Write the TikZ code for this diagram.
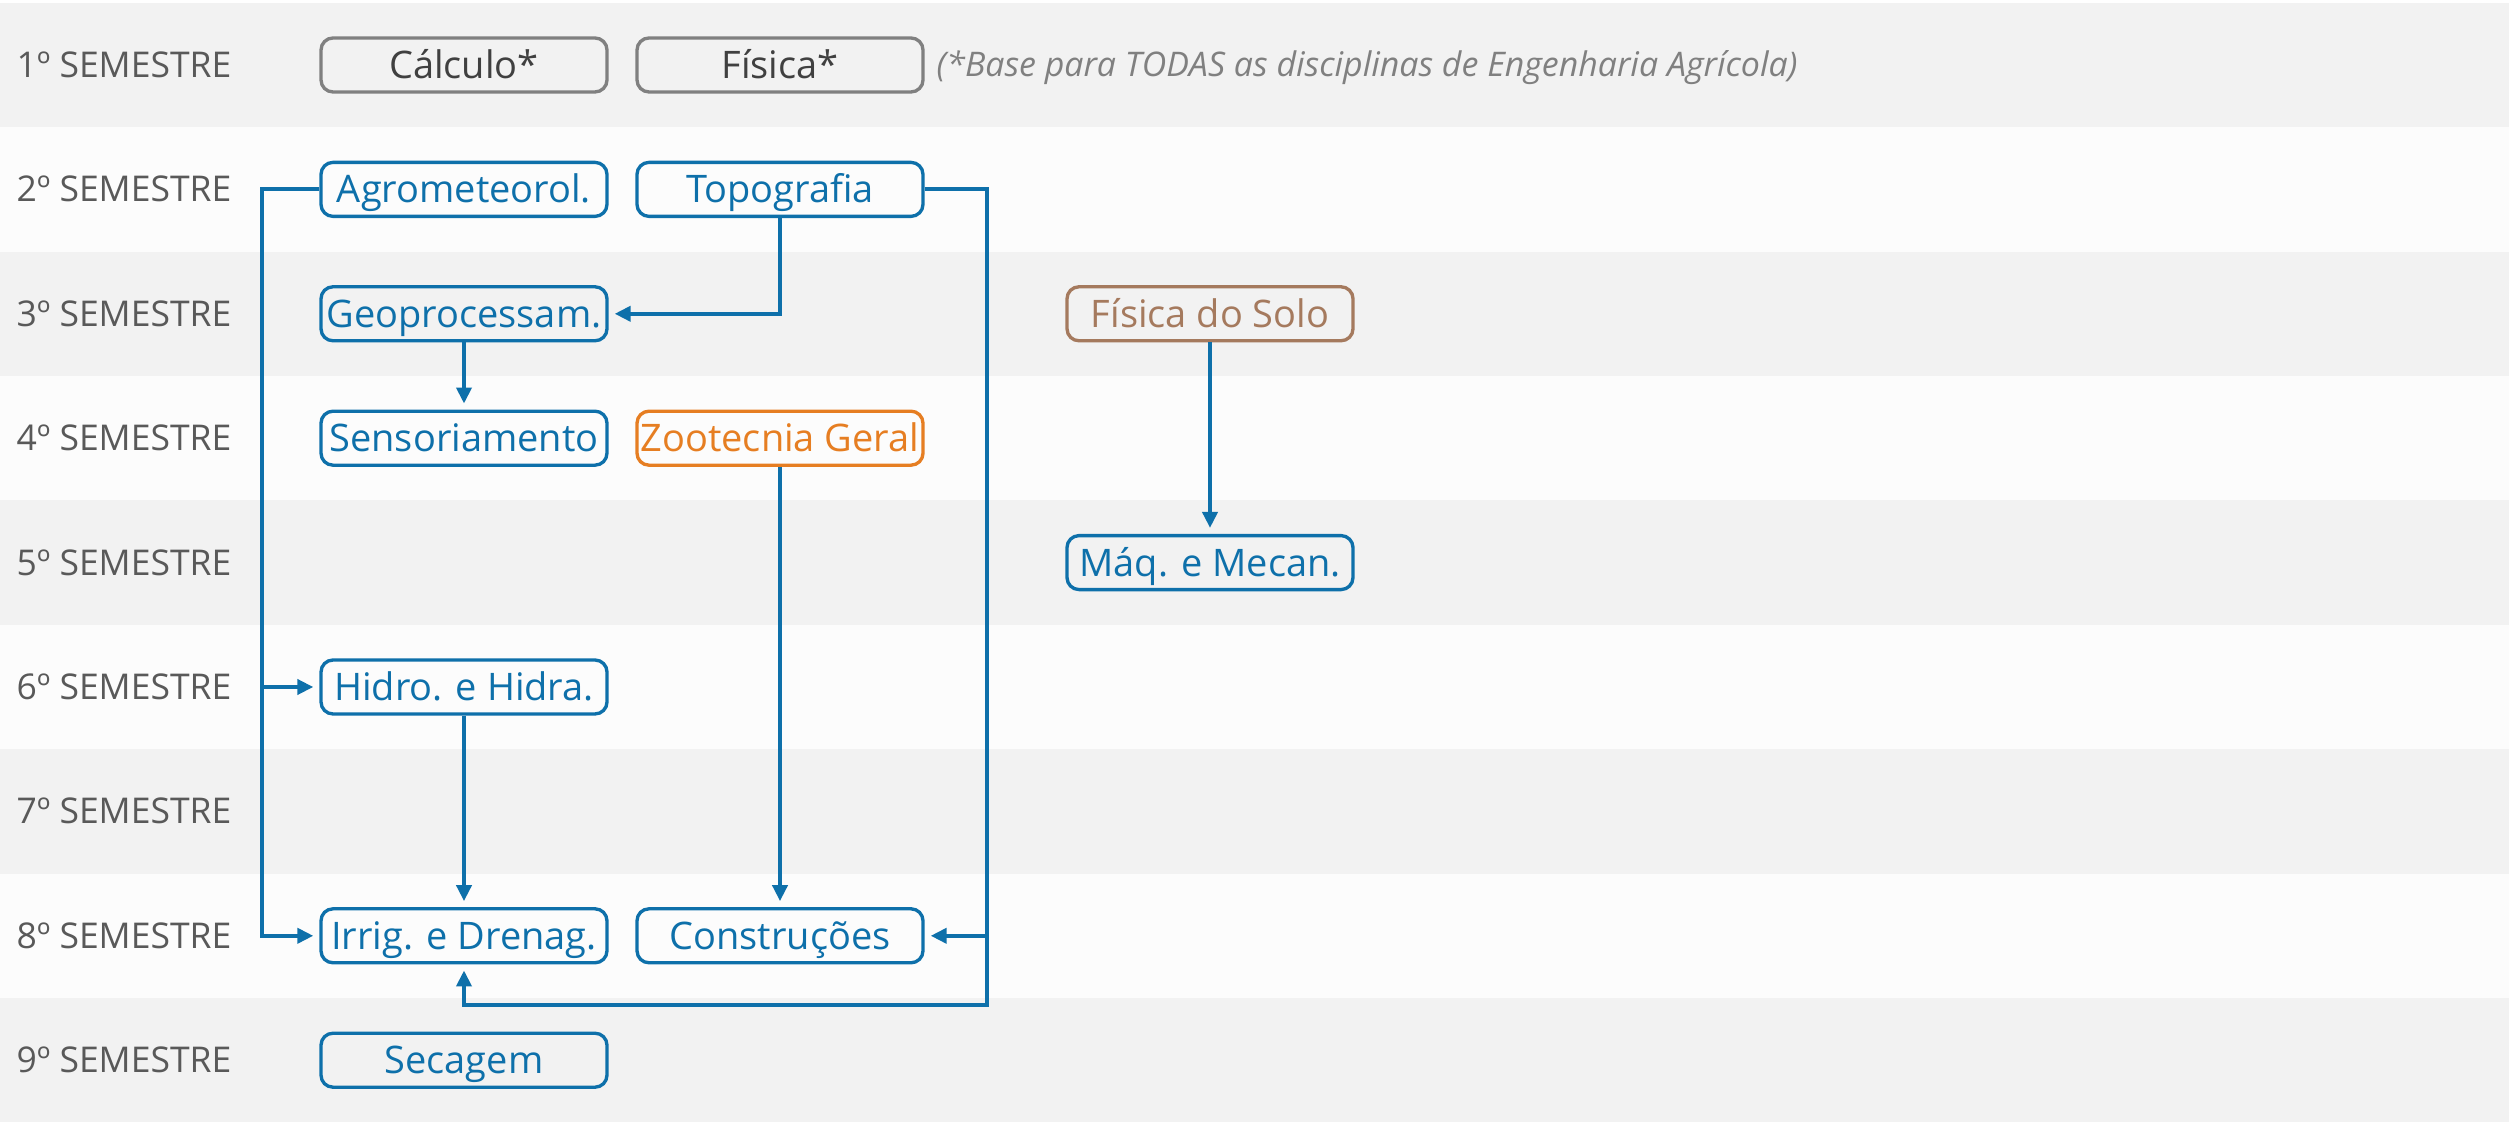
\documentclass[tikz,border=0pt]{standalone}
\usepackage{fontspec}
\setmainfont{Open Sans}
\usetikzlibrary{arrows.meta,positioning}
\definecolor{azul}{RGB}{14,112,170}
\definecolor{laranja}{RGB}{230,126,34}
\definecolor{marrom}{RGB}{165,122,94}
\definecolor{faixa}{RGB}{242,242,242}
\definecolor{faixaclara}{RGB}{252,252,252}
\definecolor{cinzatxt}{RGB}{89,89,89}
\definecolor{cinzabox}{RGB}{128,128,128}
\definecolor{cinzaesc}{RGB}{64,64,64}
\tikzset{
  sem/.style = {anchor=west, inner sep=0pt, text=cinzatxt, text height=0.25cm,
    text depth=0pt, font=\fontsize{10.1}{12}\selectfont},% rotulo do semestre
  disc/.style = {draw=azul, text=azul, rounded corners=0.12cm, line width=0.95pt,
    minimum width=2.86cm, minimum height=0.54cm, inner sep=0pt, text height=0.27cm,
    text depth=0pt, font=\fontsize{10.8}{12}\selectfont},% disciplina
  base/.style = {disc, draw=cinzabox, text=cinzaesc},% disciplina base
  zoo/.style = {disc, draw=laranja, text=laranja},
  solo/.style = {disc, draw=marrom, text=marrom},
  liga/.style = {azul, line width=1.1pt, shorten >=0.06cm,
    -{Triangle[length=0.16cm, width=0.15cm]}}
}

\begin{document}
\begin{tikzpicture}
	% fundo e faixas
	\fill[white] (0,0) rectangle (25.09,-11.24);
	\useasboundingbox (0,0) rectangle (25.09,-11.24);
	\foreach \i in {1,...,9} {
		\pgfmathsetmacro{\yc}{-0.65-(\i-1)*1.244}
		\ifodd\i \def\cor{faixa}\else \def\cor{faixaclara}\fi
		\fill[\cor] (0,\yc+0.622) rectangle (25.09,\yc-0.622);
		\node [sem] (sem\i) at (0.16,\yc) {\i º SEMESTRE};
	}
	% disciplinas
	\node [base] (calc) at (4.64,-0.65) {Cálculo*};
	\node [base] (fis) at (7.80,-0.65) {Física*};
	\node [anchor=west, inner sep=0pt, text=cinzabox, text height=0.24cm, text depth=0pt,
		font=\fontsize{9.65}{11}\selectfont\itshape] (nota) at (9.36,-0.65)
		{(*Base para TODAS as disciplinas de Engenharia Agrícola)};
	\node [disc] (agro) at (4.64,-1.894) {Agrometeorol.};
	\node [disc] (topo) at (7.80,-1.894) {Topografia};
	\node [disc] (geo) at (4.64,-3.138) {Geoprocessam.};
	\node [solo] (fsolo) at (12.10,-3.138) {Física do Solo};
	\node [disc] (sens) at (4.64,-4.382) {Sensoriamento};
	\node [zoo] (zoot) at (7.80,-4.382) {Zootecnia Geral};
	\node [disc] (maq) at (12.10,-5.626) {Máq. e Mecan.};
	\node [disc] (hidro) at (4.64,-6.870) {Hidro. e Hidra.};
	\node [disc] (irrig) at (4.64,-9.358) {Irrig. e Drenag.};
	\node [disc] (cons) at (7.80,-9.358) {Construções};
	\node [disc] (sec) at (4.64,-10.602) {Secagem};
	% ligacoes
	\coordinate (busE) at (2.62,-1.894);
	\coordinate (busD) at (9.87,-10.05);
	\draw [liga] (agro.west) -- (busE) |- (irrig.west);
	\draw [liga] (busE |- hidro.west) -- (hidro.west);
	\draw [liga] (topo.east) -| (busD) -| (irrig.south);
	\draw [liga] (busD |- cons.east) -- (cons.east);
	\draw [liga] (topo.south) |- (geo.east);
	\draw [liga] (geo.south) -- (sens.north);
	\draw [liga] (zoot.south) -- (cons.north);
	\draw [liga] (hidro.south) -- (irrig.north);
	\draw [liga] (fsolo.south) -- (maq.north);
\end{tikzpicture}
\end{document}
